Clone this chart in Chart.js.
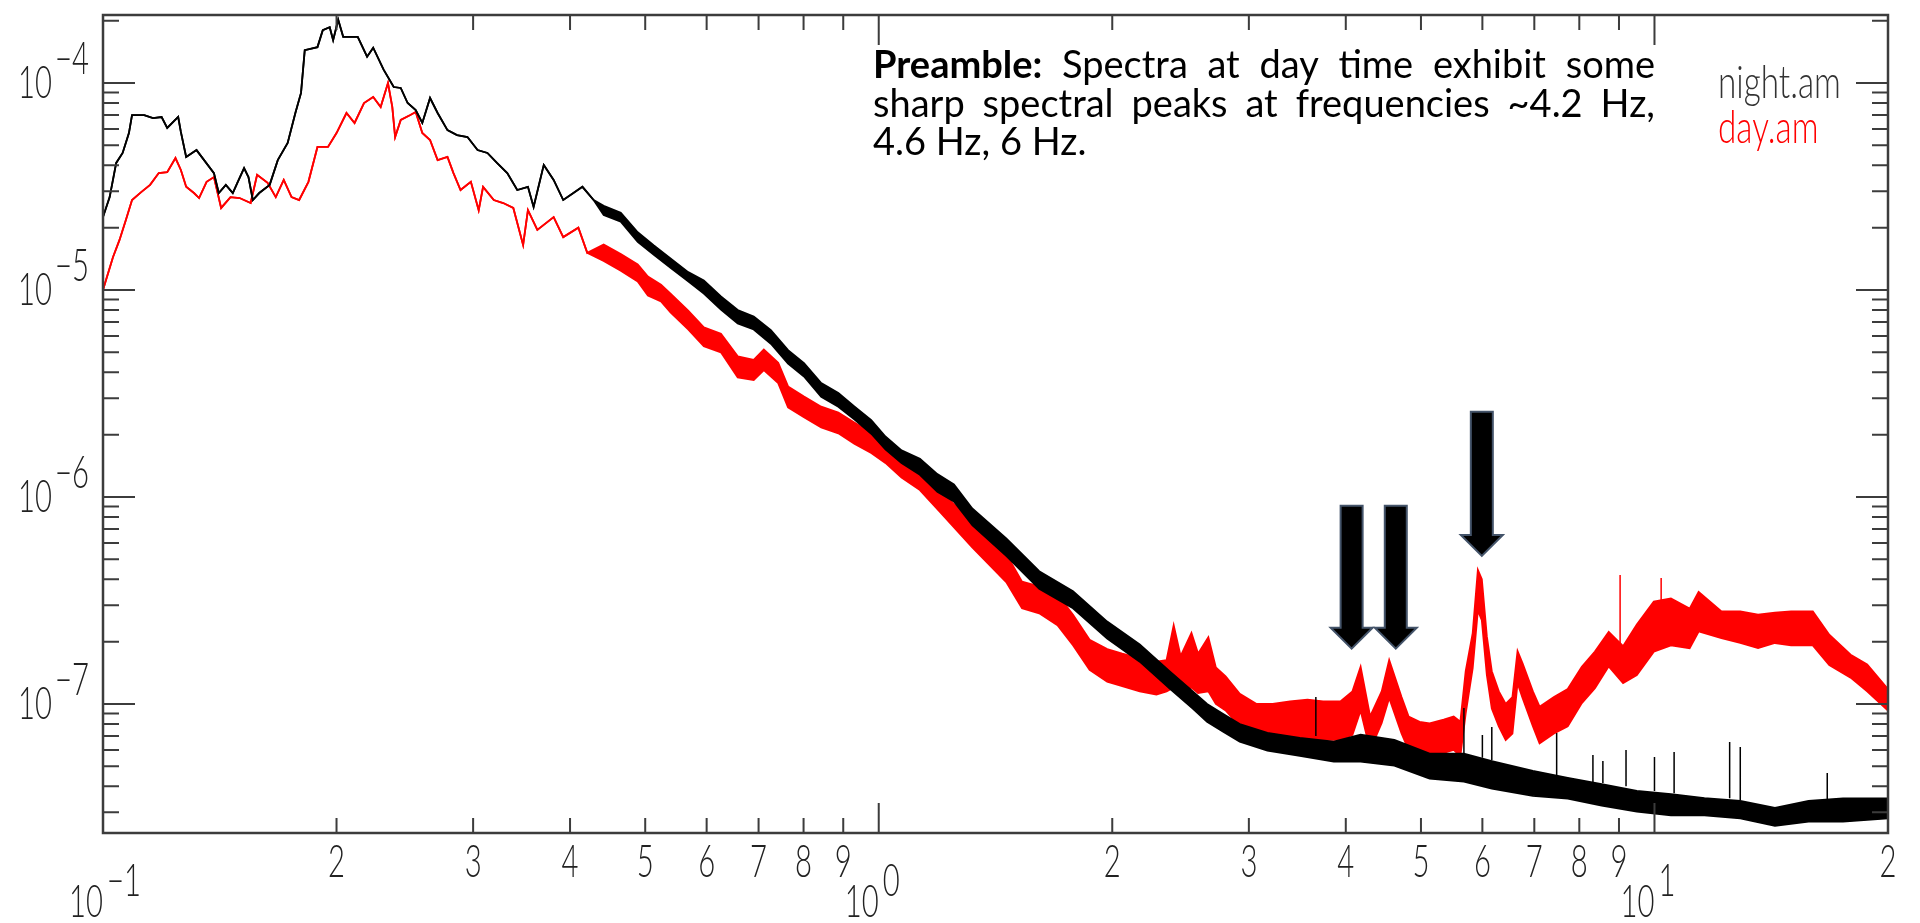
<!doctype html>
<html lang="en">
<head>
<meta charset="utf-8">
<title>night.am / day.am spectra</title>
<style>
  html, body { margin: 0; padding: 0; background: #fff; overflow: hidden; }
  canvas { display: block; }
</style>
</head>
<body>
<canvas id="spectra" width="1920" height="923"></canvas>
<script src="https://cdn.jsdelivr.net/npm/chart.js"></script>
<script>
// values (frequency in Hz, spectral amplitude)
const xMin = 0.1, xMax = 20;
const yMin = 2.38e-8, yMax = 2.13e-4;

// night.am: low band edge == high band edge where the trace is a thin line
const nightFreq = [
  0.100,0.102,0.104,0.106,0.108,0.109,0.113,0.116,0.119,0.121,
  0.125,0.126,0.128,0.132,0.135,0.139,0.141,0.144,0.147,0.149,
  0.152,0.154,0.156,0.159,0.164,0.168,0.173,0.177,0.180,0.182,
  0.189,0.192,0.196,0.198,0.201,0.204,0.213,0.219,0.223,0.230,
  0.237,0.242,0.247,0.253,0.258,0.264,0.270,0.278,0.286,0.295,
  0.304,0.313,0.322,0.332,0.342,0.353,0.359,0.370,0.381,0.392,
  0.404,0.415,0.429,
  0.442,0.465,0.489,0.513,0.539,0.568,0.595,0.626,0.658,0.690,
  0.726,0.764,0.801,0.843,0.887,0.930,0.978,1.02,1.07,1.13,
  1.19,1.25,1.32,1.46,1.61,1.78,1.97,2.17,2.37,2.54,
  2.65,2.78,2.92,3.17,3.49,3.86,4.18,4.62,5.13,5.68,
  6.17,6.97,7.73,8.55,9.49,10.5,11.6,12.9,14.3,15.8,
  17.5,20.0
];
const nightHi = [
  2.25e-5,2.81e-5,4.11e-5,4.59e-5,5.73e-5,7.0e-5,7.0e-5,6.77e-5,6.85e-5,6.06e-5,
  6.85e-5,5.8e-5,4.39e-5,4.74e-5,4.24e-5,3.67e-5,2.94e-5,3.22e-5,2.94e-5,3.29e-5,
  3.88e-5,3.51e-5,2.72e-5,2.94e-5,3.22e-5,4.24e-5,5.13e-5,7.16e-5,8.95e-5,1.44e-4,
  1.49e-4,1.80e-4,1.86e-4,1.61e-4,2.02e-4,1.67e-4,1.67e-4,1.34e-4,1.48e-4,1.16e-4,
  9.56e-5,9.46e-5,8.0e-5,7.4e-5,6.41e-5,8.46e-5,7.16e-5,5.92e-5,5.6e-5,5.48e-5,
  4.74e-5,4.59e-5,4.11e-5,3.67e-5,3.04e-5,3.15e-5,2.52e-5,4.02e-5,3.4e-5,2.72e-5,
  2.94e-5,3.15e-5,2.72e-5,
  2.55e-5,2.36e-5,1.90e-5,1.64e-5,1.42e-5,1.22e-5,1.11e-5,9.3e-6,8.0e-6,7.45e-6,
  6.4e-6,5.12e-6,4.43e-6,3.55e-6,3.18e-6,2.74e-6,2.35e-6,1.96e-6,1.68e-6,1.53e-6,
  1.29e-6,1.15e-6,8.8e-7,6.3e-7,4.38e-7,3.5e-7,2.5e-7,1.94e-7,1.44e-7,1.15e-7,
  1.0e-7,8.95e-8,8.0e-8,7.25e-8,6.86e-8,6.57e-8,7.1e-8,6.7e-8,5.75e-8,5.75e-8,
  5.3e-8,4.75e-8,4.4e-8,4.1e-8,3.8e-8,3.67e-8,3.51e-8,3.4e-8,3.15e-8,3.4e-8,
  3.5e-8,3.5e-8
];
const nightLo = [
  2.25e-5,2.81e-5,4.11e-5,4.59e-5,5.73e-5,7.0e-5,7.0e-5,6.77e-5,6.85e-5,6.06e-5,
  6.85e-5,5.8e-5,4.39e-5,4.74e-5,4.24e-5,3.67e-5,2.94e-5,3.22e-5,2.94e-5,3.29e-5,
  3.88e-5,3.51e-5,2.72e-5,2.94e-5,3.22e-5,4.24e-5,5.13e-5,7.16e-5,8.95e-5,1.44e-4,
  1.49e-4,1.80e-4,1.86e-4,1.61e-4,2.02e-4,1.67e-4,1.67e-4,1.34e-4,1.48e-4,1.16e-4,
  9.56e-5,9.46e-5,8.0e-5,7.4e-5,6.41e-5,8.46e-5,7.16e-5,5.92e-5,5.6e-5,5.48e-5,
  4.74e-5,4.59e-5,4.11e-5,3.67e-5,3.04e-5,3.15e-5,2.52e-5,4.02e-5,3.4e-5,2.72e-5,
  2.94e-5,3.15e-5,2.72e-5,
  2.3e-5,2.14e-5,1.71e-5,1.48e-5,1.28e-5,1.1e-5,9.6e-6,8.05e-6,6.88e-6,6.44e-6,
  5.5e-6,4.41e-6,3.82e-6,3.05e-6,2.73e-6,2.37e-6,2.02e-6,1.7e-6,1.46e-6,1.28e-6,
  1.06e-6,9.5e-7,7.3e-7,5.2e-7,3.6e-7,2.9e-7,2.07e-7,1.6e-7,1.19e-7,9.5e-8,
  8.2e-8,7.35e-8,6.58e-8,5.95e-8,5.62e-8,5.26e-8,5.26e-8,5.03e-8,4.36e-8,4.21e-8,
  3.9e-8,3.6e-8,3.49e-8,3.23e-8,3.02e-8,2.9e-8,2.9e-8,2.8e-8,2.58e-8,2.7e-8,
  2.7e-8,2.8e-8
];
// isolated narrow spikes on the night trace
const nightSpikeFreq = [3.66, 5.68, 6.00, 6.17, 7.48, 8.33, 8.58, 9.19, 10.0, 10.6, 12.5, 12.9, 16.7];
const nightSpikeTop  = [1.08e-7, 9.56e-8, 7.08e-8, 7.74e-8, 7.24e-8, 5.67e-8, 5.3e-8, 6.0e-8, 5.54e-8, 5.86e-8, 6.55e-8, 6.2e-8, 4.64e-8];
const nightSpikeBase = [7.0e-8, 5.8e-8, 5.5e-8, 5.36e-8, 4.4e-8, 4.2e-8, 4.15e-8, 4.0e-8, 3.8e-8, 3.7e-8, 3.5e-8, 3.44e-8, 3.4e-8];

// day.am
const dayFreq = [
  0.100,0.103,0.105,0.107,0.109,0.112,0.115,0.118,0.121,0.124,
  0.126,0.128,0.131,0.133,0.136,0.139,0.142,0.146,0.150,0.155,
  0.158,0.163,0.167,0.171,0.175,0.179,0.184,0.189,0.195,0.200,
  0.206,0.211,0.217,0.223,0.228,0.233,0.236,0.238,0.242,0.249,
  0.253,0.258,0.264,0.270,0.278,0.283,0.289,0.298,0.305,0.309,
  0.319,0.328,0.338,0.348,0.353,0.363,0.381,0.392,0.410,0.421,
  0.442,0.465,0.489,0.504,0.524,0.539,0.568,0.595,0.626,0.658,
  0.690,0.711,0.742,0.764,0.801,0.843,0.887,0.930,0.978,1.02,
  1.07,1.13,1.20,1.32,1.46,1.53,1.61,1.70,1.78,1.87,
  1.97,2.06,2.17,2.28,2.35,2.40,2.45,2.53,2.58,2.66,
  2.72,2.80,2.92,3.07,
  3.22,3.39,3.57,3.74,3.94,4.08,4.18,4.30,4.45,4.55,
  4.72,4.82,4.98,5.13,5.35,5.51,5.62,5.71,5.83,5.92,
  5.99,6.08,6.17,6.30,6.43,6.56,6.66,6.76,6.97,7.11,
  7.42,7.73,8.06,8.38,8.73,9.11,9.49,9.98,10.5,11.1,
  11.4,12.2,12.9,13.6,14.3,15.0,16.0,16.8,17.9,18.8,
  20.0
];
const dayHi = [
  1.0e-5,1.44e-5,1.74e-5,2.17e-5,2.72e-5,2.97e-5,3.22e-5,3.67e-5,3.71e-5,4.34e-5,
  3.8e-5,3.15e-5,2.94e-5,2.78e-5,3.33e-5,3.51e-5,2.49e-5,2.81e-5,2.78e-5,2.63e-5,
  3.6e-5,3.29e-5,2.81e-5,3.4e-5,2.81e-5,2.72e-5,3.33e-5,4.91e-5,4.91e-5,5.73e-5,
  7.16e-5,6.41e-5,8.0e-5,8.56e-5,7.66e-5,1.0e-4,7.66e-5,5.48e-5,6.63e-5,7.0e-5,
  7.24e-5,5.73e-5,5.3e-5,4.24e-5,4.39e-5,3.67e-5,3.04e-5,3.33e-5,2.43e-5,3.15e-5,
  2.72e-5,2.63e-5,2.49e-5,1.65e-5,2.43e-5,1.95e-5,2.25e-5,1.8e-5,2.0e-5,1.51e-5,
  1.66e-5,1.49e-5,1.33e-5,1.16e-5,1.06e-5,9.6e-6,7.95e-6,6.6e-6,6.15e-6,4.78e-6,
  4.6e-6,5.15e-6,4.45e-6,3.42e-6,3.06e-6,2.73e-6,2.56e-6,2.29e-6,2.04e-6,1.83e-6,
  1.57e-6,1.35e-6,1.08e-6,7.5e-7,5.3e-7,3.9e-7,3.7e-7,3.38e-7,2.7e-7,2.04e-7,
  1.84e-7,1.75e-7,1.66e-7,1.6e-7,1.63e-7,2.4e-7,1.7e-7,2.2e-7,1.75e-7,2.1e-7,
  1.5e-7,1.36e-7,1.12e-7,1.0e-7,
  1.0e-7,1.03e-7,1.05e-7,1.03e-7,1.03e-7,1.15e-7,1.51e-7,8.7e-8,1.15e-7,1.63e-7,
  1.08e-7,8.7e-8,8.2e-8,8.05e-8,8.4e-8,8.7e-8,8.2e-8,1.44e-7,2.2e-7,4.44e-7,
  4.0e-7,2.12e-7,1.44e-7,1.15e-7,1.0e-7,1.08e-7,1.8e-7,1.57e-7,1.15e-7,9.7e-8,
  1.08e-7,1.18e-7,1.51e-7,1.79e-7,2.23e-7,1.9e-7,2.42e-7,3.12e-7,3.23e-7,2.89e-7,
  3.48e-7,2.8e-7,2.8e-7,2.7e-7,2.76e-7,2.8e-7,2.8e-7,2.16e-7,1.73e-7,1.55e-7,
  1.18e-7
];
const dayLo = [
  1.0e-5,1.44e-5,1.74e-5,2.17e-5,2.72e-5,2.97e-5,3.22e-5,3.67e-5,3.71e-5,4.34e-5,
  3.8e-5,3.15e-5,2.94e-5,2.78e-5,3.33e-5,3.51e-5,2.49e-5,2.81e-5,2.78e-5,2.63e-5,
  3.6e-5,3.29e-5,2.81e-5,3.4e-5,2.81e-5,2.72e-5,3.33e-5,4.91e-5,4.91e-5,5.73e-5,
  7.16e-5,6.41e-5,8.0e-5,8.56e-5,7.66e-5,1.0e-4,7.66e-5,5.48e-5,6.63e-5,7.0e-5,
  7.24e-5,5.73e-5,5.3e-5,4.24e-5,4.39e-5,3.67e-5,3.04e-5,3.33e-5,2.43e-5,3.15e-5,
  2.72e-5,2.63e-5,2.49e-5,1.65e-5,2.43e-5,1.95e-5,2.25e-5,1.8e-5,2.0e-5,1.51e-5,
  1.38e-5,1.24e-5,1.1e-5,9.4e-6,8.8e-6,7.8e-6,6.45e-6,5.35e-6,5.0e-6,3.78e-6,
  3.67e-6,4.1e-6,3.55e-6,2.71e-6,2.43e-6,2.17e-6,2.03e-6,1.81e-6,1.63e-6,1.46e-6,
  1.24e-6,1.08e-6,8.45e-7,5.7e-7,3.88e-7,2.9e-7,2.74e-7,2.4e-7,1.92e-7,1.46e-7,
  1.28e-7,1.22e-7,1.15e-7,1.11e-7,1.15e-7,1.2e-7,1.15e-7,1.2e-7,1.13e-7,1.15e-7,
  1.0e-7,9.3e-8,7.8e-8,6.7e-8,
  6.7e-8,6.7e-8,6.85e-8,6.7e-8,6.7e-8,7.1e-8,9.3e-8,6.0e-8,8.1e-8,1.07e-7,
  7.2e-8,6.0e-8,5.8e-8,5.6e-8,5.8e-8,6.0e-8,5.6e-8,9.0e-8,1.49e-7,2.83e-7,
  2.54e-7,1.38e-7,9.5e-8,7.8e-8,6.7e-8,7.2e-8,1.26e-7,1.07e-7,7.8e-8,6.45e-8,
  7.2e-8,7.8e-8,1.01e-7,1.19e-7,1.52e-7,1.26e-7,1.38e-7,1.79e-7,1.92e-7,1.86e-7,
  2.24e-7,2.08e-7,1.97e-7,1.86e-7,1.97e-7,1.92e-7,1.92e-7,1.54e-7,1.34e-7,1.15e-7,
  9.3e-8
];
const daySpikeFreq = [9.03, 10.2];
const daySpikeTop  = [4.2e-7, 4.06e-7];
const daySpikeBase = [1.6e-7, 3.0e-7];

// arrows pointing at the day-time peaks
const arrowFreq = [4.07, 4.64, 5.99];
const arrowTail = [9.06e-7, 9.06e-7, 2.58e-6];
const arrowTip  = [1.85e-7, 1.85e-7, 5.19e-7];

// tick labels
const xDigitTicks = [0.2,0.3,0.4,0.5,0.6,0.7,0.8,0.9,2,3,4,5,6,7,8,9,20];
const xDigitLabels = ['2','3','4','5','6','7','8','9','2','3','4','5','6','7','8','9','2'];
const xDecades = [0.1, 1, 10];
const xDecadeExp = ['\u22121', '0', '1'];
const yDecades = [1e-4, 1e-5, 1e-6, 1e-7];
const yDecadeExp = ['\u22124', '\u22125', '\u22126', '\u22127'];

const noteLines = [
  'Preamble: Spectra at day time exhibit some',
  'sharp spectral peaks at frequencies ~4.2 Hz,',
  '4.6 Hz, 6 Hz.'
];
</script>

<script>
const pts = (fs, vs) => fs.map((f, i) => ({ x: f, y: vs[i] }));
const spikePts = (fs, tops, bases) =>
  fs.flatMap((f, i) => [{ x: f, y: bases[i] }, { x: f, y: tops[i] }, { x: f, y: null }]);

const thinFont = size => '300 ' + size + 'px Lato, "DejaVu Sans", sans-serif';

// narrow, light lettering like the old plotting package
function thinText(ctx, txt, x, y, size, sx, align) {
  ctx.font = thinFont(size);
  const w = ctx.measureText(txt).width * sx;
  const x0 = align === 'right' ? x - w : align === 'center' ? x - w / 2 : x;
  ctx.save();
  ctx.translate(x0, y);
  ctx.scale(sx, 1);
  ctx.textAlign = 'left';
  ctx.textBaseline = 'alphabetic';
  ctx.fillText(txt, 0, 0);
  ctx.restore();
}

const pawFrame = {
  id: 'pawFrame',
  afterDatasetsDraw(chart) {
    const { ctx, chartArea: a, scales: { x, y } } = chart;
    ctx.save();

    // arrows
    arrowFreq.forEach((f, i) => {
      const cx = x.getPixelForValue(f);
      const top = y.getPixelForValue(arrowTail[i]);
      const tip = y.getPixelForValue(arrowTip[i]);
      const sw = 11, hw = 21, hl = 21;
      ctx.beginPath();
      ctx.moveTo(cx - sw, top);
      ctx.lineTo(cx + sw, top);
      ctx.lineTo(cx + sw, tip - hl);
      ctx.lineTo(cx + hw, tip - hl);
      ctx.lineTo(cx, tip);
      ctx.lineTo(cx - hw, tip - hl);
      ctx.lineTo(cx - sw, tip - hl);
      ctx.closePath();
      ctx.fillStyle = '#000';
      ctx.fill();
      ctx.strokeStyle = '#44546a';
      ctx.lineWidth = 2;
      ctx.stroke();
    });

    // frame
    ctx.strokeStyle = '#3c3c3c';
    ctx.lineWidth = 2.5;
    ctx.strokeRect(a.left, a.top, a.right - a.left, a.bottom - a.top);

    // ticks on all four sides, pointing inwards
    ctx.lineWidth = 2;
    ctx.beginPath();
    for (let e = -1; e <= 1; e++) {
      for (let k = 1; k <= 9; k++) {
        const v = k * Math.pow(10, e);
        if (v < xMin * 0.999 || v > xMax * 1.001) continue;
        const px = x.getPixelForValue(v);
        const len = k === 1 ? 30 : 15;
        ctx.moveTo(px, a.bottom); ctx.lineTo(px, a.bottom - len);
        ctx.moveTo(px, a.top); ctx.lineTo(px, a.top + len);
      }
    }
    for (let e = -8; e <= -4; e++) {
      for (let k = 1; k <= 9; k++) {
        const v = k * Math.pow(10, e);
        if (v < yMin || v > yMax) continue;
        const py = y.getPixelForValue(v);
        const len = k === 1 ? 32 : 16;
        ctx.moveTo(a.left, py); ctx.lineTo(a.left + len, py);
        ctx.moveTo(a.right, py); ctx.lineTo(a.right - len, py);
      }
    }
    ctx.stroke();

    // tick labels
    ctx.fillStyle = '#222';
    yDecades.forEach((v, i) => {
      const py = y.getPixelForValue(v);
      thinText(ctx, '10', 52, py + 15, 45, 0.65, 'right');
      thinText(ctx, yDecadeExp[i], 55, py - 9, 45, 0.65, 'left');
    });
    xDigitTicks.forEach((v, i) => {
      thinText(ctx, xDigitLabels[i], x.getPixelForValue(v), a.bottom + 44, 45, 0.65, 'center');
    });
    xDecades.forEach((v, i) => {
      const px = x.getPixelForValue(v);
      thinText(ctx, '10', px, a.bottom + 84, 45, 0.65, 'right');
      thinText(ctx, xDecadeExp[i], px + 4, a.bottom + 63, 45, 0.65, 'left');
    });

    // legend
    ctx.fillStyle = '#333';
    thinText(ctx, 'night.am', a.right - 170, 98, 45, 0.74, 'left');
    ctx.fillStyle = '#ff0000';
    thinText(ctx, 'day.am', a.right - 170, 143, 45, 0.74, 'left');

    // justified note
    const left = 873, right = 1655, size = 38;
    ctx.fillStyle = '#000';
    ctx.textBaseline = 'alphabetic';
    ctx.textAlign = 'left';
    noteLines.forEach((line, li) => {
      const words = line.split(' ');
      const fonts = words.map(w => (w === 'Preamble:' ? '700 ' : '400 ') + size + 'px Lato, "Open Sans", sans-serif');
      const widths = words.map((w, i) => { ctx.font = fonts[i]; return ctx.measureText(w).width; });
      const total = widths.reduce((s, w) => s + w, 0);
      ctx.font = fonts[0];
      const gap = li < noteLines.length - 1 ? (right - left - total) / (words.length - 1) : ctx.measureText(' ').width;
      let cx = left;
      words.forEach((w, i) => {
        ctx.font = fonts[i];
        ctx.fillText(w, cx, 78 + li * 38.5);
        cx += widths[i] + gap;
      });
    });

    ctx.restore();
  }
};

const band = (color, data, extra) => Object.assign({
  data, borderColor: color, backgroundColor: color, borderWidth: 1.8,
  pointRadius: 0, tension: 0, fill: false
}, extra);

new Chart(document.getElementById('spectra'), {
  type: 'line',
  data: {
    datasets: [
      band('#000000', pts(nightFreq, nightHi)),
      band('#000000', pts(nightFreq, nightLo), { fill: '-1' }),
      band('#000000', spikePts(nightSpikeFreq, nightSpikeTop, nightSpikeBase), { borderWidth: 1.5 }),
      band('#ff0000', pts(dayFreq, dayHi)),
      band('#ff0000', pts(dayFreq, dayLo), { fill: '-1' }),
      band('#ff0000', spikePts(daySpikeFreq, daySpikeTop, daySpikeBase), { borderWidth: 1.5 })
    ]
  },
  options: {
    responsive: false,
    animation: false,
    devicePixelRatio: 1,
    events: [],
    layout: { padding: { left: 103, top: 15, right: 32, bottom: 90 } },
    scales: {
      x: { type: 'logarithmic', min: xMin, max: xMax, display: false },
      y: { type: 'logarithmic', min: yMin, max: yMax, display: false }
    },
    plugins: { legend: { display: false }, tooltip: { enabled: false } }
  },
  plugins: [pawFrame]
});
</script>
</body>
</html>
